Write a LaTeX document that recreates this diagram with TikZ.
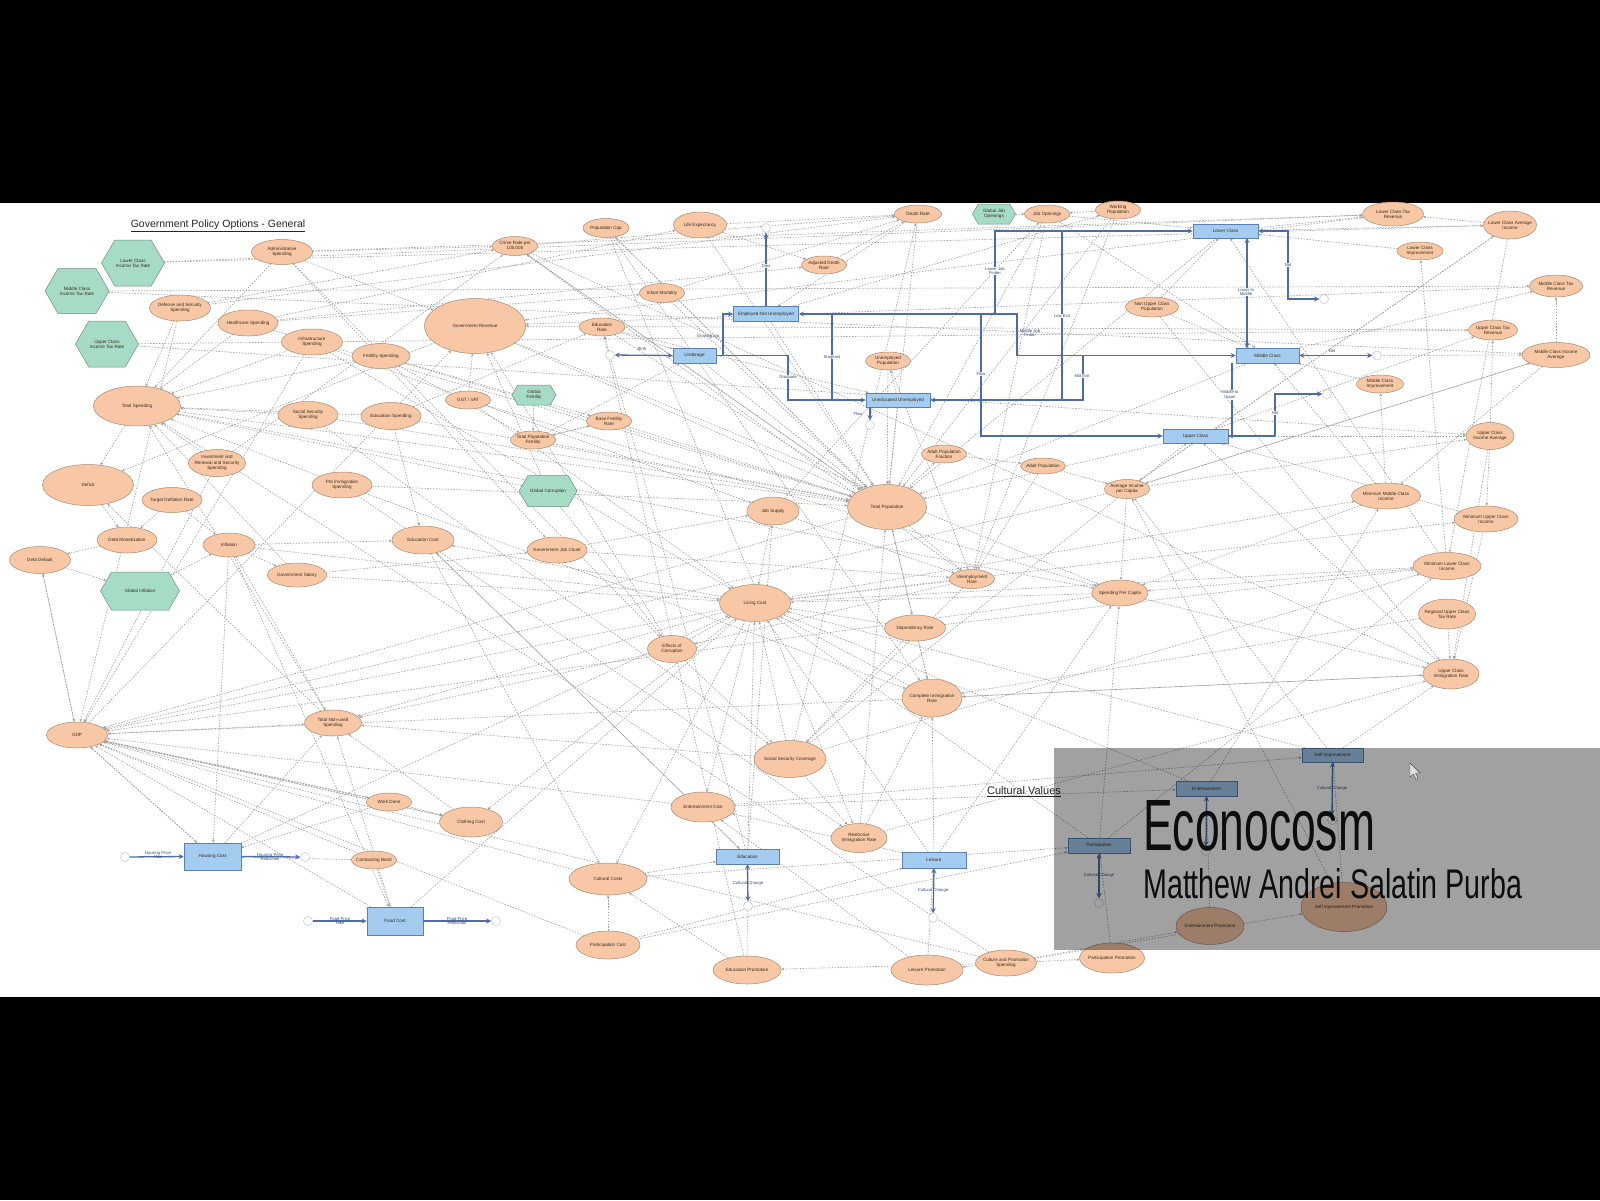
\documentclass[tikz,border=0pt]{standalone}
\usepackage{fontspec}
\setmainfont{Liberation Sans}
\usetikzlibrary{shapes.geometric,shapes.symbols,arrows.meta,backgrounds}
\definecolor{pea}{HTML}{F8C8A6}
\definecolor{peb}{HTML}{A88870}
\definecolor{hexf}{HTML}{A6DCC6}
\definecolor{hexb}{HTML}{6E8F85}
\definecolor{stf}{HTML}{A4CBF0}
\definecolor{stb}{HTML}{5A7FB0}
\definecolor{flowc}{HTML}{4E6DA8}
\definecolor{labc}{HTML}{3A2A1A}
\tikzset{
  ev/.style={ellipse, draw=peb, fill=pea, line width=0.5pt, inner sep=0pt},
  hx/.style={shape=signal, signal to=east and west, signal pointer angle=120, draw=hexb, fill=hexf, line width=0.5pt, inner sep=0pt},
  stk/.style={rectangle, draw=stb, fill=stf, line width=0.6pt, inner sep=0pt},
  lab/.style={font=\fontsize{4.6}{5.2}\selectfont, align=center, text=labc, inner sep=0pt},
  flab/.style={font=\fontsize{4.2}{4.8}\selectfont, align=center, text=flowc!70!black, inner sep=0.5pt},
  cloud0/.style={circle, draw=gray!45, fill=white, minimum size=9pt, inner sep=0pt, line width=0.5pt},
  dep/.style={draw=gray!75, line width=0.65pt, dash pattern=on 1.4pt off 1.5pt, -{Stealth[length=3pt,width=2.6pt]}},
  flow/.style={draw=flowc, line width=1.3pt},
  ft/.style={-{Stealth[length=5pt,width=5pt]}},
  fb/.style={{Stealth[length=5pt,width=5pt]}-{Stealth[length=5pt,width=5pt]}}
}
\newcommand{\EV}[6]{\node[ev, minimum width=#4pt, minimum height=#5pt] (#1) at (#2,#3) {};\node[lab] (#1-t) at (#1) {#6};}
\newcommand{\HX}[6]{\node[hx, minimum width=#4pt, minimum height=#5pt] (#1) at (#2,#3) {};\node[lab] (#1-t) at (#1) {#6};}
\newcommand{\ST}[6]{\node[stk, minimum width=#4pt, minimum height=#5pt] (#1) at (#2,#3) {};\node[lab] (#1-t) at (#1) {#6};}
\begin{document}
\begin{tikzpicture}[x=1pt,y=-1pt]
\useasboundingbox (0,0) rectangle (1600,1200);

% ---------------- hexagons
\HX{lcitr}{133}{263}{63}{46}{Lower Class\\Income Tax Rate}
\HX{mcitr}{77}{291}{64}{45}{Middle Class\\Income Tax Rate}
\HX{ucitr}{107}{344}{63}{46}{Upper Class\\Income Tax Rate}
\HX{gfert}{534}{395}{44}{20}{Global\\Fertility}
\HX{gjob}{994}{214}{43}{20}{Global Job\\Openings}
\HX{gcorr}{548}{491}{58}{31}{Global Corruption}
\HX{ginfl}{140}{591}{79}{38}{Global Inflation}

% ---------------- ellipses
\EV{admin}{282}{252}{61}{25}{Administrative\\Spending}
\EV{defense}{180}{308}{61}{26}{Defense and Security\\Spending}
\EV{health}{248}{323}{60}{26}{Healthcare Spending}
\EV{infra}{312}{342}{61}{26}{Infrastructure\\Spending}
\EV{fertsp}{381}{356}{58}{25}{Fertility Spending}
\EV{totsp}{137}{406}{87}{40}{Total Spending}
\EV{socsp}{308}{415}{60}{27}{Social Security\\Spending}
\EV{edusp}{391}{416}{60}{27}{Education Spending}
\EV{invest}{217}{463}{57}{27}{Investment and\\Renewal and Security\\Spending}
\EV{proimm}{342}{485}{60}{26}{Pro Immigration\\Spending}
\EV{deficit}{88}{485}{91}{41}{Deficit}
\EV{target}{172}{500}{60}{25}{Target Deflation Rate}
\EV{debtmon}{127}{540}{60}{26}{Debt Monetization}
\EV{debtdef}{40}{560}{61}{27}{Debt Default}
\EV{infl}{229}{545}{52}{24}{Inflation}
\EV{govsal}{297}{575}{59}{24}{Government Salary}
\EV{gdp}{77}{735}{61}{26}{GDP}
\EV{totnon}{333}{723}{57}{26}{Total Non-used\\Spending}
\EV{popcap}{606}{228}{46}{19}{Population Cap}
\EV{lifeexp}{700}{225}{53}{26}{Life Expectancy}
\EV{crime}{515}{246}{45}{19}{Crime Rate per\\100,000}
\EV{infant}{662}{293}{45}{19}{Infant Mortality}
\EV{govrev}{475}{326}{101}{55}{Government Revenue}
\EV{edurate}{602}{327}{46}{18}{Education\\Rate}
\EV{gst}{468}{400}{45}{18}{GST / VAT}
\EV{basefert}{609}{421}{45}{18}{Base Fertility\\Rate}
\EV{totfert}{533}{440}{45}{18}{Total Population\\Fertility}
\EV{deathrate}{918}{214}{47}{18}{Death Rate}
\EV{jobopen}{1047}{214}{45}{18}{Job Openings}
\EV{workpop}{1118}{210}{45}{18}{Working\\Population}
\EV{adjdeath}{824}{265}{45}{18}{Adjusted Death\\Rate}
\EV{unemppop}{888}{361}{45}{18}{Unemployed\\Population}
\EV{nonupper}{1152}{307}{53}{20}{Non Upper Class\\Population}
\EV{adultfrac}{944}{454}{45}{18}{Adult Population\\Fraction}
\EV{adultpop}{1043}{466}{45}{16}{Adult Population}
\EV{lctaxrev}{1393}{214}{61}{24}{Lower Class Tax\\Revenue}
\EV{lcavg}{1510}{225}{53}{28}{Lower Class Average\\Income}
\EV{lcimp}{1420}{251}{46}{18}{Lower Class\\Improvement}
\EV{mctaxrev}{1556}{286}{53}{22}{Middle Class Tax\\Revenue}
\EV{uctaxrev}{1493}{330}{49}{20}{Upper Class Tax\\Revenue}
\EV{mcavg}{1556}{355}{68}{25}{Middle Class Income\\Average}
\EV{mcimp}{1380}{384}{47}{18}{Middle Class\\Improvement}
\EV{ucavg}{1490}{436}{48}{27}{Upper Class\\Income Average}
\EV{educost}{423}{540}{62}{28}{Education Cost}
\EV{govjob}{557}{550}{60}{26}{Government Job Count}
\EV{jobsup}{773}{511}{52}{28}{Job Supply}
\EV{living}{755}{603}{71}{37}{Living Cost}
\EV{effcorr}{672}{649}{49}{27}{Effects of\\Corruption}
\EV{totpop}{887}{507}{79}{45}{Total Population}
\EV{avginc}{1127}{489}{45}{19}{Average Income\\per Capita}
\EV{unemprate}{972}{579}{45}{19}{Unemployment\\Rate}
\EV{spcap}{1120}{593}{56}{26}{Spending Per Capita}
\EV{depend}{915}{628}{61}{26}{Dependency Rate}
\EV{compimm}{932}{698}{60}{38}{Complete Immigration\\Rate}
\EV{minmid}{1386}{496}{69}{26}{Minimum Middle Class\\Income}
\EV{minup}{1486}{519}{64}{26}{Minimum Upper Class\\Income}
\EV{minlow}{1447}{566}{68}{27}{Minimum Lower Class\\Income}
\EV{regup}{1447}{614}{57}{30}{Regional Upper Class\\Tax Rate}
\EV{ucimm}{1451}{674}{56}{30}{Upper Class\\Immigration Rate}
\EV{workdone}{389}{802}{45}{18}{Work Done}
\EV{clothing}{471}{822}{63}{30}{Clothing Cost}
\EV{contract}{374}{860}{45}{18}{Contracting Bond}
\EV{socsec}{790}{759}{72}{37}{Social Security Coverage}
\EV{entcost}{703}{807}{64}{30}{Entertainment Cost}
\EV{restimm}{859}{838}{56}{29}{Restrictive\\Immigration Rate}
\EV{culcost}{608}{879}{78}{32}{Cultural Costs}
\EV{partcost}{608}{945}{64}{28}{Participation Cost}
\EV{edupro}{747}{970}{68}{28}{Education Promotion}
\EV{leispro}{927}{970}{72}{30}{Leisure Promotion}
\EV{culpro}{1006}{963}{61}{26}{Culture and Promotion\\Spending}
\EV{selfpro}{1344}{907}{86}{49}{Self Improvement Promotion}
\EV{entpro}{1210}{926}{68}{37}{Entertainment Promotion}
\EV{partpro}{1112}{958}{65}{30}{Participation Promotion}

% ---------------- stocks
\ST{underage}{694.5}{355.5}{43}{15}{Underage}
\ST{employed}{766}{314}{65}{15}{Employed Not Unemployed}
\ST{uneduc}{898}{400}{64}{14}{Uneducated Unemployed}
\ST{lower}{1225.5}{231}{65}{14}{Lower Class}
\ST{middle}{1267.5}{355.5}{63}{15}{Middle Class}
\ST{upper}{1195.5}{436}{65}{14}{Upper Class}
\ST{housing}{212.5}{856.5}{57}{27}{Housing Cost}
\ST{food}{395}{921}{56}{28}{Food Cost}
\ST{education}{747.5}{856.5}{63}{15}{Education}
\ST{leisure}{934}{860}{64}{16}{Leisure}
\ST{selfimp}{1332.5}{755}{61}{14}{Self Improvement}
\ST{entertain}{1206.5}{788.5}{61}{15}{Entertainment}
\ST{particip}{1099}{845.5}{62}{15}{Participation}

% ---------------- clouds
\node[cloud0] (cU) at (610,355) {};
\node[cloud0] (cE) at (766,228) {};
\node[cloud0] (cN) at (870,425) {};
\node[cloud0] (cL) at (1324,299) {};
\node[cloud0] (cM) at (1377,355.5) {};
\node[cloud0] (cP) at (1327,394) {};
\node[cloud0] (cH1) at (125,857) {};
\node[cloud0] (cH2) at (305,857) {};
\node[cloud0] (cF1) at (308,921) {};
\node[cloud0] (cF2) at (496,921) {};
\node[cloud0] (cEd) at (748,906) {};
\node[cloud0] (cLe) at (933,918) {};
\node[cloud0] (cS) at (1332,820) {};
\node[cloud0] (cEn) at (1206,851) {};
\node[cloud0] (cPa) at (1099,903) {};

% ---------------- page and dependency links (background layer)
\begin{pgfonlayer}{background}
\fill[black] (0,0) rectangle (1600,1200);
\fill[white] (0,203) rectangle (1600,997);
\foreach \a/\b in {admin/totsp, defense/totsp, health/totsp, infra/totsp, fertsp/totsp, socsp/totsp, edusp/totsp, invest/totsp, proimm/totsp, govsal/totsp, culpro/totsp, totnon/totsp,
 totsp/deficit, govrev/deficit, totsp/spcap,
 lcitr/lctaxrev, mcitr/mctaxrev, ucitr/uctaxrev, lctaxrev/govrev, mctaxrev/govrev, uctaxrev/govrev, gst/govrev, lcavg/lctaxrev, mcavg/mctaxrev, ucavg/uctaxrev, lower/lctaxrev, middle/mctaxrev, upper/uctaxrev, lower/lcavg, middle/mcavg, upper/ucavg,
 deficit/debtmon, debtmon/debtdef, debtdef/ginfl, ginfl/infl, target/infl, gdp/debtdef, infl/living, infl/govsal, infl/educost, infl/totnon, infl/housing, infl/food, gdp/totnon, gdp/govrev, gdp/housing,
 admin/govjob, admin/effcorr, admin/crime, defense/crime, defense/deathrate, health/lifeexp, health/infant, health/adjdeath, infra/jobsup, infra/living, fertsp/basefert, fertsp/totfert, socsp/socsec, edusp/educost, edusp/edurate, proimm/compimm, proimm/restimm, invest/crime, govsal/govjob,
 gfert/totfert, basefert/totfert, totfert/underage, popcap/compimm, popcap/restimm, lifeexp/deathrate, infant/deathrate, crime/deathrate, adjdeath/deathrate, deathrate/employed, edurate/underage, edurate/uneduc, gjob/jobopen, workpop/jobopen, jobopen/lower, jobopen/middle,
 underage/totpop, employed/totpop, uneduc/totpop, lower/totpop, middle/totpop, upper/totpop, totpop/adultfrac, adultfrac/adultpop, adultpop/avginc, avginc/spcap, unemppop/unemprate, totpop/unemprate, adultpop/unemprate, totpop/depend, depend/socsec, compimm/totpop, restimm/compimm, totpop/popcap, totpop/crime, unemprate/crime, unemprate/effcorr, gcorr/effcorr, effcorr/govrev, effcorr/living, nonupper/lower, nonupper/middle, workpop/totpop, uneduc/unemppop, employed/workpop,
 minlow/lower, minmid/middle, minup/upper, minlow/lcimp, minmid/mcimp, minup/ucimm, regup/ucimm, ucimm/upper, lcimp/lower, mcimp/middle, lcavg/minlow, mcavg/minmid, ucavg/minup, avginc/lcavg, avginc/mcavg, avginc/ucavg, living/minlow, living/minmid, living/minup, spcap/ucimm, compimm/ucimm, ucavg/ucimm,
 living/clothing, living/educost, living/entcost, living/culcost, workdone/clothing, contract/food, housing/living, food/living, jobsup/unemprate, govjob/jobsup, jobsup/jobopen, socsec/living, socsec/restimm, depend/compimm, unemprate/socsec, partcost/culcost, culcost/particip, entcost/entertain, edupro/education, leispro/leisure, culpro/edupro, culpro/leispro, culpro/entpro, culpro/partpro, culpro/selfpro, partpro/particip, entpro/entertain, selfpro/selfimp, education/edurate, leisure/living, particip/spcap, selfimp/avginc, education/educost, leisure/entcost, gdp/clothing, living/totnon, socsec/totnon, compimm/living, gdp/workdone, contract/housing, workdone/housing, clothing/totnon, culcost/gdp, entcost/gdp, partcost/particip, edupro/edurate, selfimp/ucimm, entertain/minmid, particip/minlow, leisure/compimm, education/jobsup, gcorr/govrev, gcorr/totsp, totfert/basefert, crime/ucimm, lifeexp/adjdeath, socsec/deathrate, unemprate/living, spcap/living, effcorr/totnon, target/debtmon, debtdef/gdp,
 lcitr/lcavg, mcitr/mcavg, ucitr/ucavg, admin/lctaxrev, totsp/totpop, govrev/totpop, crime/totpop, govrev/spcap, living/gdp, totpop/gdp, spcap/gdp, avginc/gdp, compimm/gdp, lifeexp/totpop, deathrate/totpop, popcap/totpop, jobopen/totpop, workpop/unemprate, jobopen/unemprate, nonupper/ucimm, lcavg/avginc, mcavg/avginc, minlow/spcap, minmid/spcap, ucimm/compimm, regup/compimm, socsec/upper, socsec/minlow, entcost/selfimp, culcost/education, partcost/leisure, edupro/culcost, leispro/entcost, culpro/gdp, selfpro/avginc, particip/living, entertain/living, selfimp/living, education/living, leisure/spcap, infra/gdp, defense/gdp, health/totpop, edusp/totpop, socsp/totpop, fertsp/totpop, admin/govrev, invest/gdp, proimm/totpop, govsal/living, educost/education, clothing/gdp, workdone/gdp, contract/gdp, housing/gdp, food/gdp, unemppop/totpop, infant/totpop, edurate/totpop, basefert/totpop, gst/living, gst/spcap, totfert/totpop, depend/minlow, depend/living, restimm/ucimm, restimm/totpop, effcorr/socsec, jobsup/living, govjob/unemprate, educost/culcost, totnon/deficit, partcost/gdp, housing/totnon, food/totnon}
  \draw[dep] (\a) -- (\b);
\end{pgfonlayer}

% ---------------- flows (stock and flow)
\draw[flow,fb] (cU) -- (underage.west);
\node[flab] (f1) at (642,349) {Birth};
\coordinate (b1) at (723,355.5);
\coordinate (b2) at (788,355.5);
\draw[flow,ft] (underage.east) -- (b1) |- (employed.west);
\node[flab] (f2) at (708,336) {Growing Up};
\draw[flow,ft] (b1) -- (b2) |- (uneduc.west);
\node[flab,fill=white] (f3) at (788,377) {Graduate};
\draw[flow,ft] (employed.north) -- (cE);
\node[flab,fill=white] (f4) at (766,266) {Dies};
\coordinate (b3) at (1017,314);
\coordinate (b4) at (1017,355.5);
\draw[flow,fb] (employed.east) -- (b3) -- (b4) -- (middle.west);
\node[flab] (f5) at (1030,333) {Middle Job\\Finder};
\coordinate (b5) at (995,314);
\draw[flow,ft] (b5) |- (lower.west);
\node[flab,fill=white] (f6) at (995,271) {Lower Job\\Finder};
\coordinate (b6) at (1062,231);
\coordinate (b7) at (1062,400);
\draw[flow] (b6) -- (b7);
\node[flab,fill=white] (f7) at (1062,316) {Low Exit};
\coordinate (b8) at (1083,355.5);
\coordinate (b9) at (1083,400);
\draw[flow,ft] (b8) -- (b9) -- (uneduc.east);
\node[flab,fill=white] (f8) at (1082,376) {Mid Exit};
\coordinate (b10) at (832,314);
\coordinate (b11) at (832,400);
\draw[flow] (b10) -- (b11);
\node[flab,fill=white] (f9) at (832,357) {Stagnant};
\coordinate (b12) at (981,314);
\draw[flow,ft] (b12) |- (upper.west);
\node[flab,fill=white] (f10) at (981,374) {Flow};
\coordinate (b13) at (870,407);
\draw[flow,ft] (b13) -- (cN);
\node[flab] (f11) at (858,414) {Flow};
\coordinate (b14) at (1247,238);
\coordinate (b15) at (1247,348);
\draw[flow,fb] (b14) -- (b15);
\node[flab,fill=white] (f12) at (1246,292) {Lower to\\Middle};
\coordinate (b16) at (1288,231);
\draw[flow,fb] (lower.east) -- (b16) |- (cL);
\node[flab,fill=white] (f13) at (1288,265) {Net};
\draw[flow,fb] (middle.east) -- (cM);
\node[flab] (f14) at (1332,351) {Net};
\coordinate (b17) at (1232,363);
\draw[flow,ft] (b17) |- (upper.east);
\node[flab,fill=white] (f15) at (1230,395) {Middle to\\Upper};
\coordinate (b18) at (1275,436);
\draw[flow] (upper.east) -- (b18);
\draw[flow,ft] (b18) |- (cP);
\node[flab,fill=white] (f16) at (1275,413) {Net};
\draw[flow,ft] (cH1) -- (housing.west);
\draw[flow,ft] (housing.east) -- (cH2);
\node[flab] (f17) at (158,855) {Housing Price\\Hike};
\node[flab] (f18) at (270,857) {Housing Price\\Reduction};
\draw[flow,ft] (cF1) -- (food.west);
\draw[flow,ft] (food.east) -- (cF2);
\node[flab] (f19) at (340,921) {Food Price\\Hike};
\node[flab] (f20) at (457,921) {Food Price\\Reduction};
\draw[flow,fb] (education.south) -- (cEd);
\node[flab] (f21) at (748,883) {Cultural Change};
\draw[flow,fb] (leisure.south) -- (cLe);
\node[flab] (f22) at (933,890) {Cultural Change};
\draw[flow,fb] (selfimp.south) -- (cS);
\node[flab] (f23) at (1332,788) {Cultural Change};
\draw[flow,fb] (entertain.south) -- (cEn);
\draw[flow,fb] (particip.south) -- (cPa);
\node[flab] (f25) at (1099,875) {Cultural Change};

% ---------------- titles
\node[font=\fontsize{10.5}{12}\selectfont, text=black!85, inner sep=0pt] (title) at (218,226) {\underline{Government Policy Options - General}};
\node[font=\fontsize{11}{12}\selectfont, text=black!85, inner sep=0pt] (cvtitle) at (1024,792) {\underline{Cultural Values}};

% ---------------- overlay panel
\fill[black, fill opacity=0.37] (1054,748) rectangle (1600,950);
\node[anchor=base west, inner sep=0pt, text=black!95] (econ) at (1143,850) {\resizebox{232pt}{50pt}{\fontsize{70}{70}\selectfont Econocosm}};
\node[anchor=base west, inner sep=0pt, text=black!95] (author) at (1143,898) {\resizebox{379pt}{30pt}{\fontsize{42}{42}\selectfont Matthew Andrei Salatin Purba}};
\draw[fill=gray!25, draw=black!70, line width=0.4pt] (1410,763) -- (1410,777) -- (1413.5,774) -- (1416,779.5) -- (1418,778.5) -- (1415.5,773) -- (1420,773) -- cycle;
\end{tikzpicture}
\end{document}
